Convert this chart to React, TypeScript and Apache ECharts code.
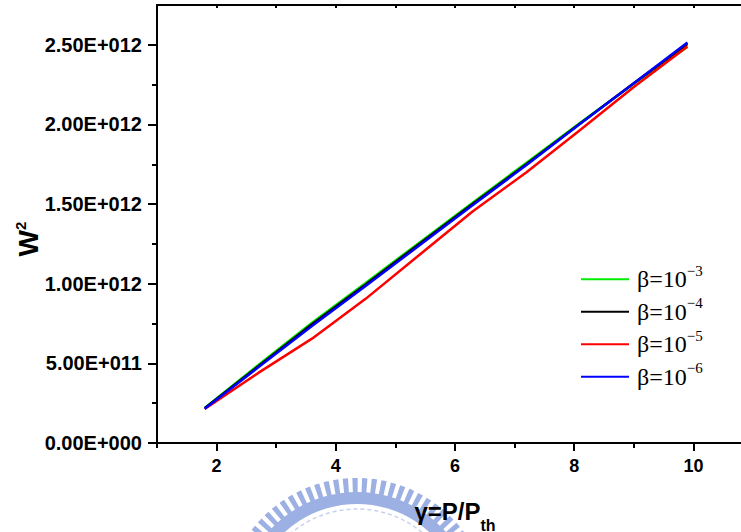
import React, { useEffect, useRef } from 'react';
import * as echarts from 'echarts';

// Pump ratio γ = P/P_th sampled for every β curve
const gammaValues = [1.8, 2.7, 3.6, 4.5, 5.4, 6.3, 7.2, 8.1, 9.0, 9.9];

// W² values in units of 1e12
const w2Beta3 = [0.220, 0.490, 0.755, 1.005, 1.258, 1.510, 1.760, 2.010, 2.255, 2.487];
const w2Beta4 = [0.218, 0.482, 0.745, 0.995, 1.250, 1.502, 1.752, 2.006, 2.258, 2.505];
const w2Beta5 = [0.214, 0.440, 0.655, 0.905, 1.180, 1.455, 1.700, 1.965, 2.235, 2.490];
const w2Beta6 = [0.215, 0.475, 0.735, 0.985, 1.240, 1.495, 1.745, 2.005, 2.258, 2.515];
const W2_UNIT = 1e12;

const betaExponents = ['−3', '−4', '−5', '−6'];
const seriesColors = ['#00ee00', '#000000', '#ff0000', '#0000ff'];

// Axis ticks and labels
const xLabelValues = [2, 4, 6, 8, 10];
const xMinorTickValues = [1, 3, 5, 7, 9, 11];
const yLabelValues = [0, 5e11, 1e12, 1.5e12, 2e12, 2.5e12];
const yMinorTickValues = [2.5e11, 7.5e11, 1.25e12, 1.75e12, 2.25e12];

const SANS = '"Liberation Sans", Arial, Helvetica, sans-serif';
const SERIF = '"Liberation Serif", "Times New Roman", serif';

function formatSci(v: number): string {
  if (v === 0) return '0.00E+000';
  const e = Math.floor(Math.log10(v) + 1e-9);
  const m = v / Math.pow(10, e);
  return m.toFixed(2) + 'E+' + String(e).padStart(3, '0');
}

function buildSeal() {
  // Faint university seal drawn behind the x-axis title
  const cx = 357;
  const cy = 611;
  const fill = '#9db0e3';
  const els: any[] = [];
  const rad = (d: number) => (d * Math.PI) / 180;
  els.push({
    type: 'sector',
    silent: true,
    z: -10,
    shape: { cx, cy, r0: 107, r: 119, startAngle: rad(-155), endAngle: rad(-25) },
    style: { fill },
  });
  for (let a = -155; a <= -27; a += 4.2) {
    els.push({
      type: 'sector',
      silent: true,
      z: -10,
      shape: { cx, cy, r0: 117, r: 133, startAngle: rad(a), endAngle: rad(a + 2.3) },
      style: { fill },
    });
  }
  els.push({
    type: 'arc',
    silent: true,
    z: -10,
    shape: { cx, cy, r: 102, startAngle: rad(-155), endAngle: rad(-25) },
    style: { stroke: '#c6d1ef', lineWidth: 1.5, lineDash: [4, 3], fill: null },
  });
  return els;
}

export default function App() {
  const ref = useRef<HTMLDivElement>(null);

  useEffect(() => {
    if (!ref.current) return;
    const chart = echarts.init(ref.current, undefined, { renderer: 'svg' });

    const seriesValues = [w2Beta3, w2Beta4, w2Beta5, w2Beta6];
    const axisLineStyle = { color: '#000', width: 2 };

    const option: any = {
      animation: false,
      backgroundColor: '#ffffff',
      grid: {
        left: 157,
        top: 5,
        width: 596,
        height: 438,
        containLabel: false,
        outerBoundsMode: 'none',
      },
      xAxis: [
        {
          type: 'value',
          position: 'bottom',
          min: 1,
          max: 11,
          interval: 1,
          axisLine: { show: true, lineStyle: axisLineStyle },
          axisTick: { show: true, length: 8, lineStyle: axisLineStyle, customValues: xLabelValues },
          axisLabel: {
            customValues: xLabelValues,
            fontSize: 18,
            fontWeight: 'bold',
            fontFamily: SANS,
            color: '#000',
            margin: 14,
          },
          splitLine: { show: false },
          name: 'γ=P/P{sub|th}',
          nameLocation: 'middle',
          nameGap: 46,
          nameTextStyle: {
            fontSize: 24,
            fontWeight: 'bold',
            fontFamily: SANS,
            color: '#000',
            lineHeight: 44,
            rich: {
              sub: {
                fontSize: 16,
                fontWeight: 'bold',
                fontFamily: SANS,
                color: '#000',
                verticalAlign: 'bottom',
                lineHeight: 16,
              },
            },
          },
        },
        {
          type: 'value',
          position: 'bottom',
          min: 1,
          max: 11,
          interval: 1,
          axisLine: { show: false },
          axisTick: { show: true, length: 5, lineStyle: axisLineStyle, customValues: xMinorTickValues },
          axisLabel: { show: false },
          splitLine: { show: false },
        },
        {
          type: 'value',
          position: 'top',
          min: 1,
          max: 11,
          interval: 1,
          axisLine: { show: true, lineStyle: axisLineStyle },
          axisTick: { show: true, inside: true, length: 3, lineStyle: axisLineStyle },
          axisLabel: { show: false },
          splitLine: { show: false },
        },
      ],
      yAxis: [
        {
          type: 'value',
          position: 'left',
          min: 0,
          max: 2.75e12,
          interval: 2.5e11,
          axisLine: { show: true, lineStyle: axisLineStyle },
          axisTick: { show: true, length: 9, lineStyle: axisLineStyle, customValues: yLabelValues },
          axisLabel: {
            customValues: yLabelValues,
            formatter: (v: number) => formatSci(v),
            fontSize: 20,
            fontWeight: 'bold',
            fontFamily: SANS,
            color: '#000',
            margin: 15,
          },
          splitLine: { show: false },
        },
        {
          type: 'value',
          position: 'left',
          min: 0,
          max: 2.75e12,
          interval: 2.5e11,
          axisLine: { show: false },
          axisTick: { show: true, length: 5, lineStyle: axisLineStyle, customValues: yMinorTickValues },
          axisLabel: { show: false },
          splitLine: { show: false },
        },
      ],
      legend: {
        orient: 'vertical',
        left: 581,
        top: 263,
        padding: 0,
        itemGap: 0,
        itemWidth: 48,
        itemHeight: 2,
        icon: 'rect',
        formatter: (name: string) => name.replace(/^β=10(.*)$/, 'β=10{sup|$1}'),
        textStyle: {
          fontFamily: SERIF,
          fontSize: 24,
          color: '#000',
          lineHeight: 32.5,
          padding: [0, 0, 0, 3],
          rich: {
            sup: {
              fontFamily: SERIF,
              fontSize: 15,
              color: '#000',
              verticalAlign: 'top',
              lineHeight: 13,
            },
          },
        },
      },
      graphic: [
        ...buildSeal(),
        {
          type: 'text',
          x: 28,
          y: 239,
          rotation: Math.PI / 2,
          silent: true,
          style: {
            text: '{w|W}{s|2}',
            align: 'center',
            verticalAlign: 'middle',
            rich: {
              w: { fontSize: 28, fontWeight: 'bold', fontFamily: SANS, fill: '#000', lineHeight: 30 },
              s: {
                fontSize: 15,
                fontWeight: 'bold',
                fontFamily: SANS,
                fill: '#000',
                verticalAlign: 'top',
                lineHeight: 13,
              },
            },
          },
        },
      ],
      series: seriesValues.map((vals, i) => ({
        type: 'line',
        name: `β=10${betaExponents[i]}`,
        xAxisIndex: 0,
        yAxisIndex: 0,
        symbol: 'none',
        data: gammaValues.map((g, j) => [g, vals[j] * W2_UNIT]),
        lineStyle: { color: seriesColors[i], width: 2.5 },
        itemStyle: { color: seriesColors[i] },
        z: 2 + i,
      })),
    };

    chart.setOption(option);
    return () => chart.dispose();
  }, []);

  return (
    <div
      ref={ref}
      style={{ position: 'absolute', left: 0, top: 0, width: 741, height: 532 }}
    />
  );
}
